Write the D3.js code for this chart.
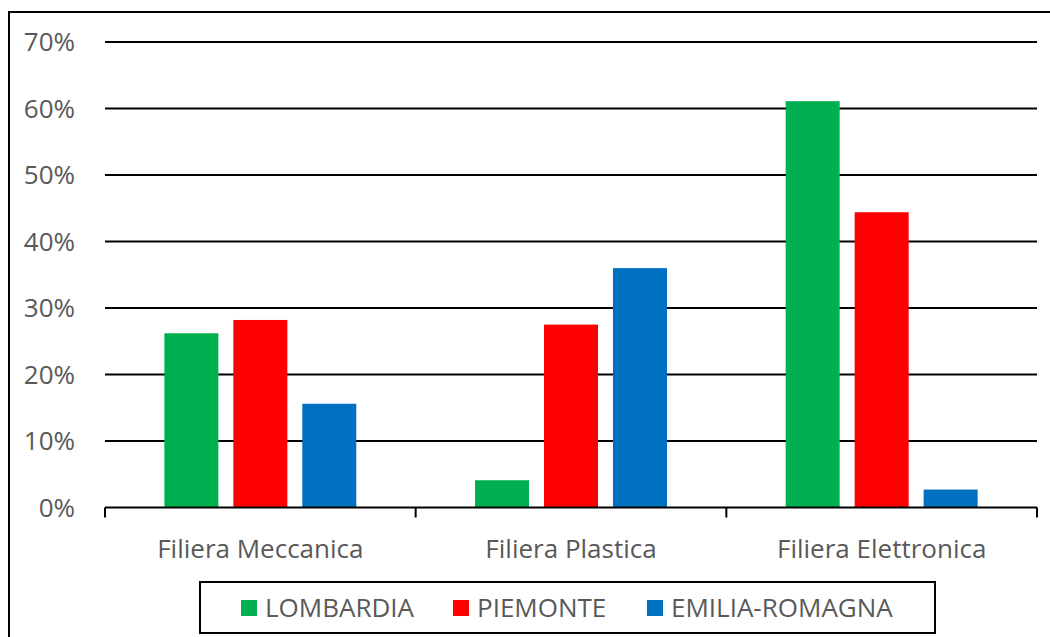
<!DOCTYPE html>
<html>
<head>
<meta charset="utf-8">
<script src="https://cdn.jsdelivr.net/npm/d3@7"></script>
<style>
  html, body { margin: 0; padding: 0; background: #fff; }
  svg { display: block; }
  text { font-family: "Open Sans", Lato, sans-serif; fill: #595959; font-size: 26px; }
</style>
</head>
<body>
<svg id="chart" width="1050" height="637"></svg>
<script>
// Share of firms by supply chain and region
const categories = ["Filiera Meccanica", "Filiera Plastica", "Filiera Elettronica"];
const seriesNames = ["LOMBARDIA", "PIEMONTE", "EMILIA-ROMAGNA"];
const lombardia = [0.262, 0.041, 0.611];
const piemonte = [0.282, 0.275, 0.444];
const emiliaRomagna = [0.156, 0.360, 0.027];
const colors = ["#00B050", "#FF0000", "#0070C0"];
const yTicks = [0, 0.1, 0.2, 0.3, 0.4, 0.5, 0.6, 0.7];

const seriesValues = [lombardia, piemonte, emiliaRomagna];

const svg = d3.select("#chart");
const W = 1050, H = 637;

// outer chart frame
svg.append("rect")
  .attr("x", 9).attr("y", 12)
  .attr("width", W + 10).attr("height", H + 10)
  .attr("fill", "none").attr("stroke", "#000").attr("stroke-width", 2);

const plot = { left: 105, right: 1037, top: 42, bottom: 507.5 };

const x0 = d3.scaleBand().domain(categories)
  .range([plot.left, plot.right]).paddingInner(0.334).paddingOuter(0.167);
const x1 = d3.scaleBand().domain(seriesNames)
  .range([0, x0.bandwidth()]).paddingInner(0.217).paddingOuter(0.1085);
const y = d3.scaleLinear().domain([0, 0.7]).range([plot.bottom, plot.top]);

// gridlines
svg.append("g").selectAll("line").data(yTicks.slice(1)).join("line")
  .attr("x1", plot.left).attr("x2", plot.right)
  .attr("y1", d => y(d)).attr("y2", d => y(d))
  .attr("stroke", "#000").attr("stroke-width", 2);

// y tick labels
svg.append("g").selectAll("text").data(yTicks).join("text")
  .attr("x", 75).attr("y", d => y(d))
  .attr("dy", "0.36em")
  .attr("text-anchor", "end")
  .text(d3.format(".0%"));

// bars
const groups = svg.append("g").selectAll("g").data(categories).join("g")
  .attr("transform", c => `translate(${x0(c)},0)`);
groups.selectAll("rect")
  .data((c, i) => seriesNames.map((s, j) => ({ s, v: seriesValues[j][i], j })))
  .join("rect")
  .attr("x", d => x1(d.s))
  .attr("width", x1.bandwidth())
  .attr("y", d => y(d.v))
  .attr("height", d => y(0) - y(d.v))
  .attr("fill", d => colors[d.j]);

// category axis with boundary ticks
const xAxis = svg.append("g");
xAxis.append("line")
  .attr("x1", plot.left).attr("x2", plot.right)
  .attr("y1", y(0)).attr("y2", y(0))
  .attr("stroke", "#000").attr("stroke-width", 2);
const boundaries = [plot.left].concat(categories.map(c => x0(c) - x0.step() * x0.paddingInner() / 2 + x0.step()));
xAxis.selectAll("line.tick").data(boundaries).join("line")
  .attr("class", "tick")
  .attr("x1", d => d).attr("x2", d => d)
  .attr("y1", y(0)).attr("y2", y(0) + 10)
  .attr("stroke", "#000").attr("stroke-width", 2);
xAxis.selectAll("text").data(categories).join("text")
  .attr("x", c => x0(c) + x0.bandwidth() / 2)
  .attr("y", 558)
  .attr("text-anchor", "middle")
  .text(c => c);

// legend
const legend = svg.append("g");
legend.append("rect")
  .attr("x", 200).attr("y", 582).attr("width", 735).attr("height", 51)
  .attr("fill", "#fff").attr("stroke", "#000").attr("stroke-width", 2);
const legendX = [241, 453, 647];
seriesNames.forEach((s, i) => {
  legend.append("rect")
    .attr("x", legendX[i]).attr("y", 600).attr("width", 16).attr("height", 16)
    .attr("fill", colors[i]);
  legend.append("text")
    .attr("x", legendX[i] + 24).attr("y", 617)
    .text(s);
});
</script>
</body>
</html>
